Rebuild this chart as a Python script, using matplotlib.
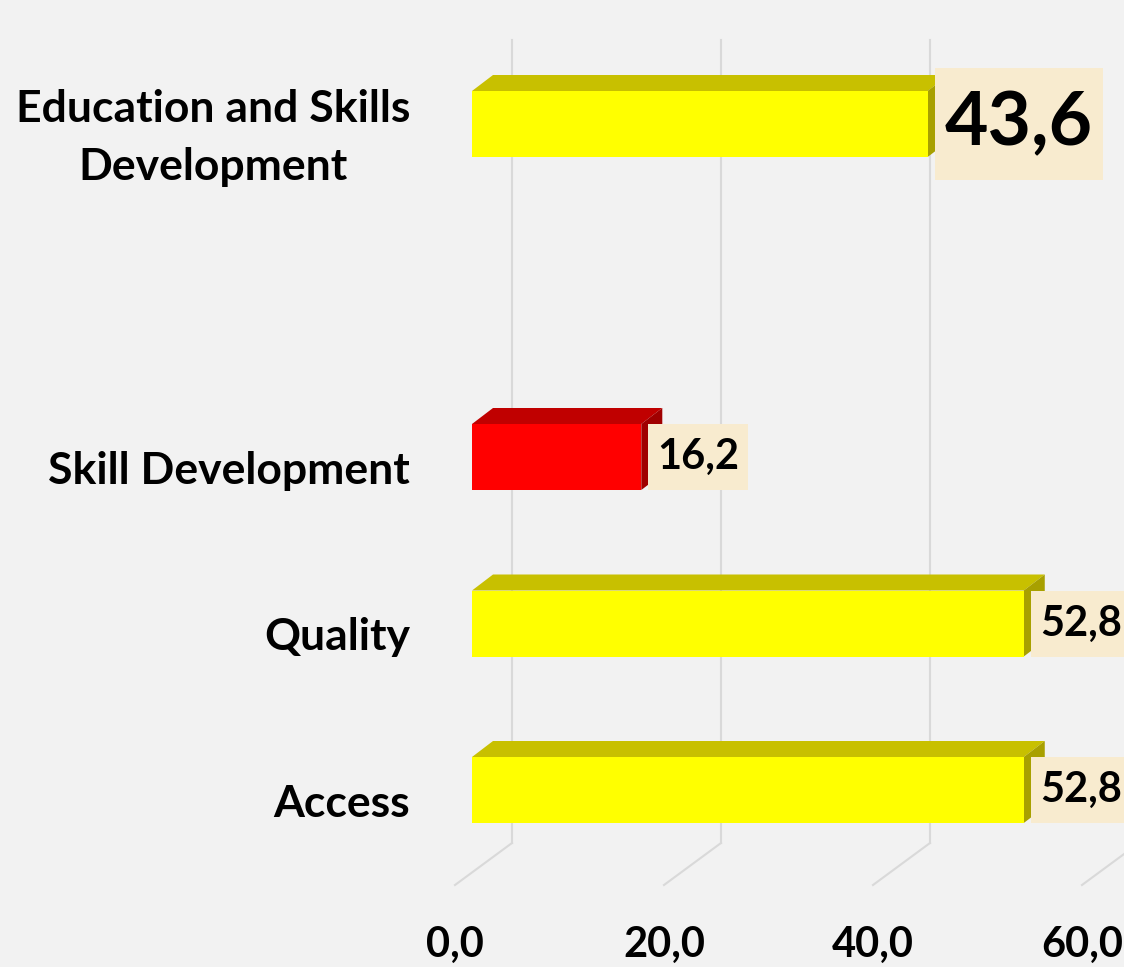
import matplotlib
matplotlib.use("Agg")
import matplotlib.pyplot as plt
from matplotlib.patches import Polygon, Rectangle

plt.rcParams['font.family'] = ['Lato', 'DejaVu Sans']

# ---- data ----
categories = ["Access", "Quality", "Skill Development", "", "Education and Skills\nDevelopment"]
values = [52.8, 52.8, 16.2, None, 43.6]
front_colors = ["#FFFF00", "#FFFF00", "#FF0000", None, "#FFFF00"]
top_colors = ["#C8C000", "#C8C000", "#C00000", None, "#C8C000"]
side_colors = ["#A8A000", "#A8A000", "#A00000", None, "#A8A000"]
label_sizes = [30, 30, 30, None, 54]
xticks = [0, 20, 40, 60]
xtick_labels = ["0,0", "20,0", "40,0", "60,0"]

# ---- layout (pixel-based styling constants) ----
W, H = 1124, 967
PX = 10.45          # px per x unit
PY = 166.5          # px per category
X0_PX = 472         # px position of x=0 (bar front)
Y0_PX = 790         # px from top of first category centre

fig = plt.figure(figsize=(W / 100, H / 100), dpi=100)
fig.patch.set_facecolor("#F2F2F2")
ax = fig.add_axes([0, 0, 1, 1])
ax.set_facecolor("#F2F2F2")
ax.set_xlim(-X0_PX / PX, (W - X0_PX) / PX)
ax.set_ylim(-(H - Y0_PX) / PY, Y0_PX / PY)
ax.axis("off")

# depth geometry
back_dx = 40 / PX
front_dx = -17 / PX
floor_back_y = -(843 - Y0_PX) / PY
floor_front_y = -(885 - Y0_PX) / PY
wall_top_y = (Y0_PX - 40) / PY
bar_h = 66 / PY
ddx = 21 / PX
ddy = 16 / PY

grid_c = "#D9D9D9"
for t, lab in zip(xticks, xtick_labels):
    ax.plot([t + back_dx, t + back_dx], [floor_back_y, wall_top_y], color=grid_c, lw=1.5, zorder=1)
    ax.plot([t + back_dx, t + front_dx], [floor_back_y, floor_front_y], color=grid_c, lw=1.5, zorder=1)
    ax.text(t + front_dx, -(945 - Y0_PX) / PY, lab, ha="center", va="center",
            fontsize=30, fontweight="bold", color="black")

value_texts = []
for i, (cat, v) in enumerate(zip(categories, values)):
    if cat:
        ax.annotate(cat, xy=(0, i), xytext=(-62 / 1.389, -14 / 1.389), textcoords="offset points",
                    ha="right", va="center", multialignment="center", linespacing=1.55,
                    fontsize=32, fontweight="bold", color="black")
    if v is None:
        continue
    yb, yt = i - bar_h / 2, i + bar_h / 2
    ax.add_patch(Polygon([(0, yt), (v, yt), (v + ddx, yt + ddy), (ddx, yt + ddy)],
                         closed=True, facecolor=top_colors[i], edgecolor="none", zorder=3))
    ax.add_patch(Polygon([(v, yb), (v, yt), (v + ddx, yt + ddy), (v + ddx, yb + ddy)],
                         closed=True, facecolor=side_colors[i], edgecolor="none", zorder=3))
    ax.barh(i, v, height=bar_h, color=front_colors[i], edgecolor="none", zorder=4)
    fs = label_sizes[i]
    padx = 9 if fs < 40 else 10
    off = (7 + padx) / 1.389
    t = ax.annotate(f"{v:.1f}".replace(".", ","), xy=(v, i), xytext=(off, 0), textcoords="offset points",
                    ha="left", va="center", fontsize=fs, fontweight="bold", color="black", zorder=6)
    value_texts.append((t, i, padx, 66 if fs < 40 else 112))

# label boxes sized from the rendered text
fig.canvas.draw()
r = fig.canvas.get_renderer()
inv = ax.transData.inverted()
for t, i, padx, box_h in value_texts:
    bb = t.get_window_extent(r)
    cy = ax.transData.transform((0, i))[1]
    (x0, y0) = inv.transform((bb.x0 - padx, cy - box_h / 2))
    (x1, y1) = inv.transform((bb.x1 + padx, cy + box_h / 2))
    ax.add_patch(Rectangle((x0, y0), x1 - x0, y1 - y0, facecolor="#F8EBCF", edgecolor="none", zorder=5))

fig.savefig("out.png", dpi=100, facecolor=fig.get_facecolor())
